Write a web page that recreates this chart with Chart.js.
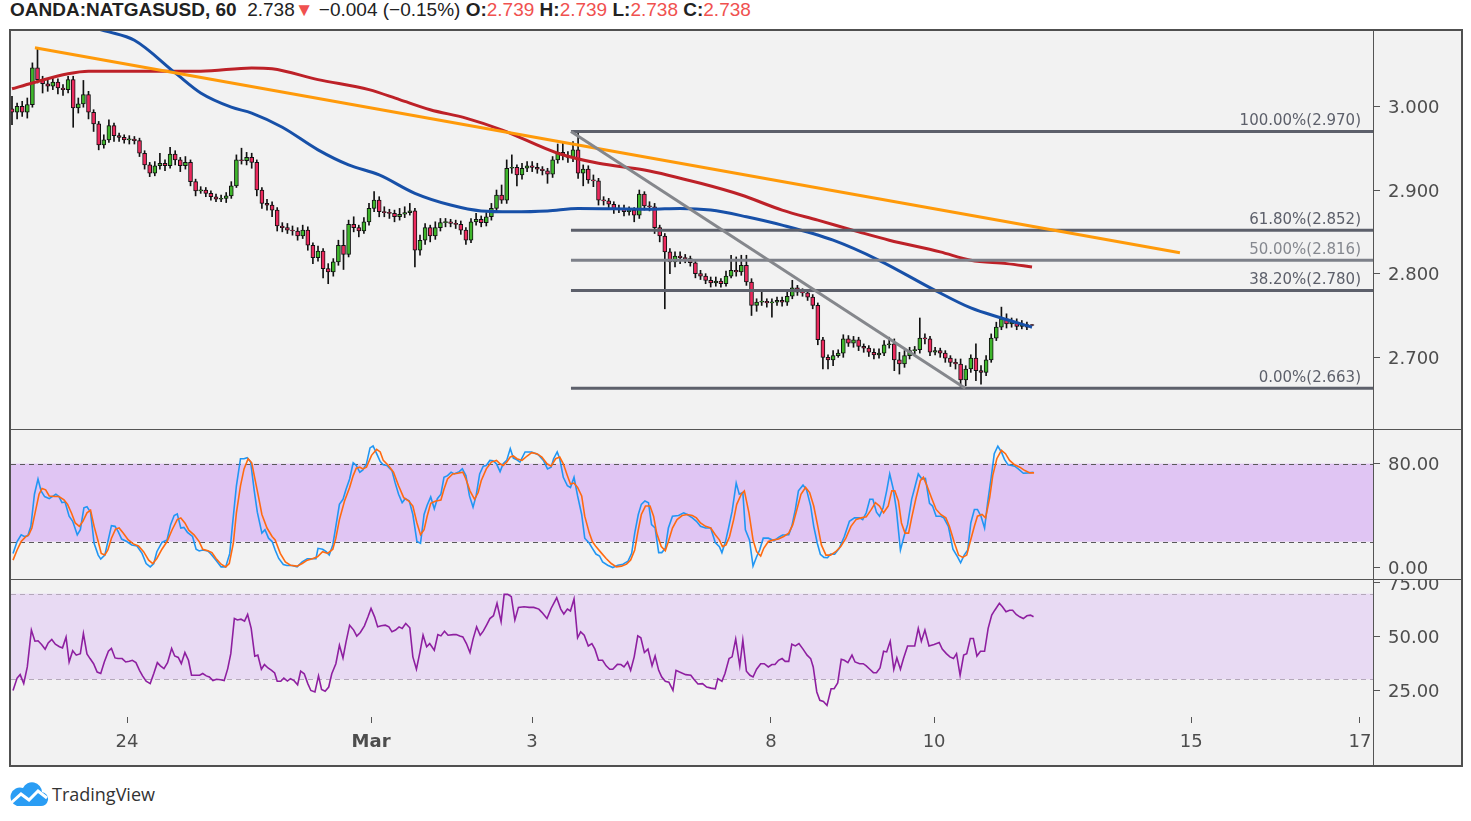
<!DOCTYPE html>
<html lang="en">
<head>
<meta charset="UTF-8">
<title>OANDA:NATGASUSD, 60</title>
<script src="https://cdn.jsdelivr.net/npm/chart.js"></script>
<style>
  body { margin: 0; background: #fff; width: 1471px; height: 821px; overflow: hidden; }
  #head { position: absolute; left: 10px; top: -1px; font: 19px 'Liberation Sans Narrow', 'Arial Narrow', sans-serif; color: #222; white-space: nowrap; line-height: 22px; }
  #head .dn { color: #f0514f; }
  #frame { position: absolute; left: 9px; top: 29px; width: 1454px; height: 738px; box-sizing: border-box; border: 2px solid #505050; background: #f2f2f2; }
  #frame canvas { position: absolute; left: 0; }
  .hl { position: absolute; left: 0; width: 1450px; height: 1px; background: #555; }
  .vl { position: absolute; left: 1362px; top: 0; width: 1px; height: 734px; background: #555; }
  #logo { position: absolute; left: 9px; top: 781px; }
  #logoText { position: absolute; left: 52px; top: 781px; font: 18px 'Open Sans', sans-serif; color: #333; line-height: 26px; }
</style>
</head>
<body>
<div id="head"><b>OANDA:NATGASUSD, 60</b>&nbsp; 2.738<span class="dn">▼</span> −0.004 (−0.15%) <b>O:</b><span class="dn">2.739</span> <b>H:</b><span class="dn">2.739</span> <b>L:</b><span class="dn">2.738</span> <b>C:</b><span class="dn">2.738</span></div>
<div id="frame">
  <canvas id="price" width="1450" height="398" style="top:0"></canvas>
  <div class="hl" style="top:398px"></div>
  <canvas id="stoch" width="1450" height="149" style="top:399px"></canvas>
  <div class="hl" style="top:548px"></div>
  <canvas id="rsi" width="1450" height="185" style="top:549px"></canvas>
  <div class="vl"></div>
</div>
<svg id="logo" width="40" height="26" viewBox="0 0 40 26">
  <path d="M8 25 H31 A7 7 0 0 0 33 11 A10 10 0 0 0 14 7 A9 9 0 0 0 8 25 Z" fill="#2a9df4"/>
  <polyline points="2,22 12,13 20,19 29,10 38,17" fill="none" stroke="#fff" stroke-width="3"/>
</svg>
<div id="logoText">TradingView</div>

<script>
// hourly candles, bar index 0..200
const opens = [
2.997,2.993,3.000,2.993,3.002,3.046,3.032,3.027,3.024,3.029,
3.022,3.020,3.032,2.998,3.003,3.014,2.993,2.979,2.954,2.960,
2.977,2.965,2.963,2.960,2.961,2.959,2.944,2.930,2.920,2.929,
2.932,2.929,2.943,2.936,2.929,2.933,2.910,2.899,2.900,2.896,
2.892,2.889,2.890,2.893,2.905,2.936,2.935,2.939,2.933,2.900,
2.884,2.882,2.876,2.857,2.855,2.852,2.851,2.845,2.852,2.834,
2.819,2.827,2.806,2.802,2.814,2.834,2.823,2.859,2.855,2.851,
2.862,2.878,2.888,2.874,2.873,2.872,2.868,2.871,2.873,2.875,
2.828,2.840,2.855,2.845,2.855,2.861,2.862,2.860,2.859,2.852,
2.840,2.862,2.865,2.861,2.868,2.878,2.894,2.888,2.926,2.927,
2.918,2.926,2.929,2.927,2.925,2.923,2.919,2.936,2.945,2.941,
2.939,2.948,2.920,2.925,2.912,2.911,2.888,2.887,2.883,2.877,
2.878,2.874,2.876,2.870,2.895,2.881,2.880,2.855,2.845,2.826,
2.814,2.821,2.819,2.818,2.813,2.800,2.797,2.792,2.789,2.791,
2.788,2.797,2.804,2.802,2.810,2.790,2.762,2.766,2.767,2.765,
2.766,2.768,2.766,2.773,2.783,2.778,2.777,2.772,2.762,2.721,
2.700,2.697,2.702,2.705,2.722,2.717,2.721,2.713,2.711,2.706,
2.703,2.705,2.715,2.716,2.697,2.692,2.702,2.708,2.709,2.723,
2.722,2.706,2.708,2.705,2.699,2.694,2.692,2.673,2.686,2.699,
2.684,2.682,2.697,2.723,2.736,2.746,2.740,2.742,2.737,2.739,
2.739];
const highs = [
3.012,3.004,3.006,3.010,3.052,3.070,3.036,3.032,3.034,3.033,
3.026,3.036,3.036,3.010,3.031,3.018,2.996,2.982,2.966,2.984,
2.980,2.968,2.966,2.965,2.964,2.962,2.947,2.933,2.934,2.944,
2.936,2.951,2.947,2.939,2.940,2.936,2.913,2.904,2.903,2.899,
2.895,2.894,2.897,2.910,2.942,2.950,2.945,2.944,2.936,2.903,
2.889,2.886,2.879,2.861,2.860,2.857,2.855,2.858,2.856,2.837,
2.833,2.830,2.812,2.818,2.840,2.852,2.864,2.868,2.858,2.867,
2.884,2.898,2.892,2.880,2.877,2.876,2.878,2.880,2.884,2.878,
2.846,2.860,2.858,2.862,2.866,2.866,2.865,2.864,2.863,2.855,
2.866,2.872,2.869,2.873,2.884,2.900,2.906,2.936,2.942,2.930,
2.932,2.934,2.934,2.932,2.928,2.926,2.940,2.955,2.958,2.946,
2.958,2.970,2.930,2.929,2.918,2.914,2.892,2.890,2.886,2.882,
2.882,2.880,2.879,2.900,2.898,2.886,2.884,2.858,2.848,2.830,
2.826,2.826,2.823,2.821,2.816,2.804,2.800,2.796,2.796,2.794,
2.803,2.822,2.820,2.822,2.822,2.794,2.770,2.778,2.770,2.770,
2.772,2.772,2.778,2.792,2.786,2.782,2.780,2.775,2.765,2.724,
2.703,2.708,2.709,2.727,2.726,2.725,2.724,2.716,2.714,2.710,
2.710,2.720,2.724,2.722,2.706,2.708,2.712,2.713,2.747,2.728,
2.725,2.712,2.711,2.708,2.702,2.698,2.698,2.690,2.703,2.716,
2.690,2.702,2.728,2.742,2.760,2.752,2.747,2.746,2.744,2.742,
2.739];
const lows = [
2.978,2.985,2.988,2.986,2.999,3.028,3.016,3.018,3.020,3.015,
3.013,3.016,2.975,2.992,2.999,2.985,2.970,2.948,2.950,2.957,
2.958,2.958,2.956,2.955,2.955,2.940,2.925,2.916,2.917,2.925,
2.923,2.926,2.930,2.922,2.925,2.905,2.893,2.896,2.892,2.888,
2.886,2.886,2.885,2.890,2.903,2.931,2.930,2.926,2.893,2.878,
2.876,2.868,2.851,2.850,2.848,2.846,2.840,2.842,2.828,2.812,
2.815,2.795,2.788,2.797,2.810,2.805,2.820,2.850,2.844,2.848,
2.858,2.874,2.868,2.868,2.866,2.862,2.864,2.867,2.870,2.808,
2.822,2.835,2.838,2.841,2.851,2.856,2.856,2.854,2.847,2.835,
2.837,2.858,2.856,2.857,2.864,2.874,2.884,2.884,2.920,2.905,
2.913,2.922,2.922,2.920,2.918,2.908,2.915,2.932,2.936,2.933,
2.934,2.914,2.905,2.908,2.904,2.882,2.882,2.878,2.872,2.873,
2.869,2.870,2.862,2.866,2.876,2.875,2.848,2.838,2.758,2.800,
2.808,2.812,2.813,2.809,2.795,2.793,2.788,2.784,2.785,2.784,
2.785,2.795,2.797,2.798,2.786,2.750,2.755,2.762,2.760,2.748,
2.762,2.761,2.762,2.770,2.774,2.773,2.768,2.758,2.715,2.686,
2.686,2.690,2.700,2.700,2.713,2.712,2.708,2.706,2.701,2.698,
2.699,2.702,2.711,2.684,2.680,2.688,2.698,2.704,2.705,2.716,
2.702,2.703,2.700,2.694,2.689,2.686,2.663,2.666,2.682,2.672,
2.668,2.678,2.694,2.720,2.733,2.735,2.736,2.733,2.734,2.733,
2.738];
const closes = [
2.993,3.000,2.993,3.002,3.046,3.032,3.027,3.024,3.029,3.022,
3.020,3.032,2.998,3.003,3.014,2.993,2.979,2.954,2.960,2.977,
2.965,2.963,2.960,2.961,2.959,2.944,2.930,2.920,2.929,2.932,
2.929,2.943,2.936,2.929,2.933,2.910,2.899,2.900,2.896,2.892,
2.889,2.890,2.893,2.905,2.936,2.935,2.939,2.933,2.900,2.884,
2.882,2.876,2.857,2.855,2.852,2.851,2.845,2.852,2.834,2.819,
2.827,2.806,2.802,2.814,2.834,2.823,2.859,2.855,2.851,2.862,
2.878,2.888,2.874,2.873,2.872,2.868,2.871,2.873,2.875,2.828,
2.840,2.855,2.845,2.855,2.861,2.862,2.860,2.859,2.852,2.840,
2.862,2.865,2.861,2.868,2.878,2.894,2.888,2.926,2.927,2.918,
2.926,2.929,2.927,2.925,2.923,2.919,2.936,2.945,2.941,2.939,
2.948,2.920,2.925,2.912,2.911,2.888,2.887,2.883,2.877,2.878,
2.874,2.876,2.870,2.895,2.881,2.880,2.855,2.845,2.826,2.814,
2.821,2.819,2.818,2.813,2.800,2.797,2.792,2.789,2.791,2.788,
2.797,2.804,2.802,2.810,2.790,2.762,2.766,2.767,2.765,2.766,
2.768,2.766,2.773,2.783,2.778,2.777,2.772,2.762,2.721,2.700,
2.697,2.702,2.705,2.722,2.717,2.721,2.713,2.711,2.706,2.703,
2.705,2.715,2.716,2.697,2.692,2.702,2.708,2.709,2.723,2.722,
2.706,2.708,2.705,2.699,2.694,2.692,2.673,2.686,2.699,2.684,
2.682,2.697,2.723,2.736,2.746,2.740,2.742,2.737,2.739,2.736,
2.738];

// moving averages [bar, price]
const maRed = [[0,3.021],[4,3.028],[11,3.039],[15,3.042],[24,3.042],[37,3.042],[47,3.046],[51,3.045],[60,3.032],[70,3.020],[76,3.008],[82,2.996],[89,2.986],[96,2.972],[107,2.944],[115,2.932],[124,2.924],[135,2.908],[143,2.894],[151,2.876],[158,2.864],[166,2.850],[172,2.840],[182,2.826],[188,2.816],[195,2.812],[200,2.808]];
const maBlue = [[0,3.110],[9,3.103],[19,3.089],[24,3.079],[32,3.040],[37,3.016],[43,2.999],[47,2.992],[53,2.975],[60,2.948],[66,2.930],[72,2.918],[79,2.896],[86,2.882],[92,2.875],[98,2.874],[105,2.875],[111,2.878],[125,2.877],[131,2.878],[137,2.876],[144,2.868],[151,2.858],[161,2.840],[170,2.816],[181,2.780],[188,2.759],[194,2.747],[200,2.736]];

// drawings
const trendOrange = [[4.5,3.070],[229.0,2.825]];
const trendGray = [[109.6,2.970],[186.9,2.663]];
const fibStart = 109.6;
const fibPct = ['100.00%','61.80%','50.00%','38.20%','0.00%'];
const fibPrice = [2.970,2.852,2.816,2.780,2.663];

// stochastic %K / %D and RSI [bar, value]
const stochK = [[0.2,11.0],[1.0,20.1],[1.8,25.3],[2.4,24.0],[3.1,24.6],[3.7,31.8],[4.4,56.5],[5.1,68.2],[5.7,59.1],[6.4,54.7],[7.3,53.1],[7.9,54.7],[8.6,56.5],[9.2,54.7],[9.8,50.0],[10.4,50.5],[11.2,39.6],[11.9,35.7],[12.8,25.3],[13.4,29.2],[14.1,46.1],[14.7,46.9],[15.4,42.7],[16.1,18.8],[16.9,9.7],[17.4,6.6],[18.2,9.7],[18.8,20.1],[19.5,32.3],[20.2,31.8],[20.8,27.9],[21.5,22.0],[22.5,20.1],[23.5,17.5],[24.5,16.7],[25.5,11.0],[26.3,3.2],[27.1,0.6],[27.8,3.2],[28.4,12.3],[29.4,19.4],[30.4,21.4],[31.1,33.1],[31.8,40.1],[32.4,41.4],[33.1,30.5],[33.7,31.0],[34.4,27.2],[35.4,24.0],[36.1,14.2],[36.7,12.9],[37.4,13.6],[38.4,12.9],[39.0,10.5],[40.0,5.8],[41.0,0.6],[41.9,0.6],[42.7,11.0],[43.2,31.8],[44.0,63.0],[44.8,83.8],[45.5,83.8],[46.1,84.6],[46.8,81.2],[47.5,59.1],[48.1,42.7],[49.0,26.6],[49.6,29.2],[50.3,22.7],[51.0,20.1],[51.6,13.6],[52.3,7.1],[53.2,2.5],[53.9,1.7],[54.9,1.7],[55.9,0.6],[56.9,4.5],[57.9,6.9],[59.6,6.9],[60.0,14.9],[60.9,14.2],[61.6,12.3],[62.2,9.7],[62.9,17.5],[63.5,31.8],[64.2,48.7],[64.9,52.6],[65.5,60.4],[66.2,68.2],[66.9,80.7],[67.5,78.6],[68.2,73.4],[68.8,75.2],[69.5,79.9],[70.2,92.1],[70.8,93.7],[71.5,87.7],[72.2,81.7],[72.8,79.1],[73.5,78.6],[74.5,74.7],[75.1,65.6],[75.8,56.5],[76.5,50.0],[77.1,53.1],[77.9,51.3],[78.6,40.9],[79.4,20.1],[80.1,18.8],[80.8,40.9],[81.4,48.0],[82.1,54.4],[82.8,45.3],[83.4,53.1],[84.1,56.5],[84.7,69.5],[85.4,70.8],[86.1,73.4],[86.7,72.1],[87.7,73.9],[88.3,76.0],[89.0,70.8],[89.7,55.2],[90.4,46.6],[91.0,55.2],[91.7,72.1],[92.4,78.1],[93.0,78.6],[93.7,82.5],[94.3,82.3],[95.0,79.9],[95.7,73.9],[96.3,79.9],[97.0,82.5],[97.7,91.6],[98.3,84.3],[99.0,83.0],[99.6,81.2],[100.6,89.0],[101.9,89.0],[103.2,86.9],[104.2,82.5],[105.0,76.0],[105.7,77.3],[106.2,83.8],[106.9,89.0],[107.4,83.8],[108.1,69.5],[108.9,63.0],[109.5,61.7],[110.2,69.5],[110.9,55.2],[111.7,40.9],[112.3,22.7],[113.2,18.8],[113.8,14.9],[114.5,10.5],[115.2,9.0],[115.8,4.5],[116.8,1.9],[117.8,0.1],[118.8,1.9],[119.8,2.7],[120.8,5.1],[121.5,11.0],[122.1,26.6],[122.8,40.9],[123.4,48.7],[124.1,51.3],[124.8,50.0],[125.4,33.1],[126.1,30.5],[126.8,11.6],[127.4,11.6],[128.1,14.9],[128.7,30.5],[129.5,39.6],[130.7,40.1],[131.7,42.2],[132.4,40.9],[133.4,38.3],[134.2,35.7],[135.0,31.8],[136.0,30.5],[137.0,30.5],[137.9,19.4],[138.7,16.2],[139.2,11.6],[139.9,20.1],[140.5,30.5],[141.2,43.5],[142.0,65.1],[142.6,56.5],[143.3,57.8],[143.8,29.2],[144.6,21.4],[145.3,1.2],[146.0,8.4],[146.6,13.6],[147.3,22.7],[148.3,22.7],[149.4,20.7],[150.3,23.3],[151.1,25.1],[152.3,25.3],[152.9,31.8],[153.6,44.8],[154.2,59.1],[155.1,63.5],[155.8,59.9],[156.6,47.4],[157.2,31.8],[157.9,18.8],[158.5,10.3],[159.2,7.9],[159.9,7.7],[160.5,10.5],[161.3,10.3],[162.2,14.9],[163.2,24.0],[164.2,35.7],[165.2,38.3],[166.2,38.3],[166.8,37.0],[167.5,42.2],[168.2,52.6],[168.8,52.6],[169.5,42.7],[170.1,39.6],[170.8,46.1],[171.5,59.1],[172.1,72.1],[172.8,60.4],[173.4,44.8],[174.2,13.6],[174.9,24.0],[175.6,33.1],[176.4,52.6],[177.1,63.0],[177.7,72.1],[178.4,68.2],[179.1,68.7],[179.9,49.5],[180.5,47.4],[181.2,39.6],[182.1,39.6],[182.7,38.3],[183.6,31.8],[184.5,14.2],[185.4,8.4],[186.0,3.8],[186.7,9.7],[187.4,13.6],[188.0,34.4],[188.7,44.8],[189.3,44.8],[190.0,39.6],[190.7,30.5],[191.3,50.0],[192.0,69.5],[192.6,87.7],[193.3,93.4],[194.0,89.0],[194.6,83.3],[195.3,79.1],[196.0,78.6],[196.6,78.1],[197.3,76.0],[198.3,72.6],[199.3,72.9],[200.3,73.4]];
const stochD = [[0.2,5.8],[1.0,13.6],[1.8,20.1],[2.6,23.5],[3.3,25.3],[3.9,30.5],[4.6,43.5],[5.3,56.5],[5.9,60.9],[6.6,59.9],[7.3,55.2],[8.3,54.7],[9.2,54.7],[10.2,52.1],[10.9,48.7],[11.7,41.7],[12.4,34.4],[13.2,31.8],[13.9,35.7],[14.7,42.2],[15.4,44.3],[16.1,31.8],[16.9,20.1],[17.5,11.0],[18.2,9.7],[18.8,13.6],[19.5,22.7],[20.3,29.7],[21.0,30.5],[21.8,26.6],[22.8,21.4],[23.8,18.3],[24.8,16.7],[25.8,12.3],[26.8,5.8],[27.6,3.2],[28.4,7.1],[29.4,14.2],[30.4,20.1],[31.4,29.2],[32.4,37.0],[33.1,38.3],[33.9,34.4],[34.7,28.7],[35.7,25.3],[36.7,20.1],[37.4,14.2],[38.4,13.1],[39.2,11.6],[40.0,7.1],[41.0,2.7],[41.9,0.6],[42.6,3.2],[43.4,18.8],[44.0,42.2],[44.8,63.0],[45.5,76.0],[46.3,83.8],[47.0,80.7],[47.7,66.9],[48.3,55.2],[49.0,40.9],[50.0,30.5],[51.0,24.0],[51.6,21.4],[52.6,11.0],[53.6,4.5],[54.6,1.9],[55.9,1.2],[56.9,3.2],[57.9,5.8],[58.9,6.9],[59.9,8.4],[60.9,12.3],[61.9,11.0],[62.9,14.2],[63.5,22.7],[64.2,37.0],[65.2,51.3],[66.2,61.7],[66.9,70.8],[67.5,76.5],[68.2,77.3],[68.8,76.0],[69.5,77.3],[70.5,86.4],[71.5,91.1],[72.2,89.0],[72.8,82.5],[73.8,78.6],[74.8,73.4],[75.8,63.0],[76.8,53.9],[77.8,51.3],[78.6,47.4],[79.4,34.4],[80.1,25.3],[80.8,29.2],[81.4,39.6],[82.1,49.5],[83.1,51.3],[84.1,52.1],[84.7,60.4],[85.4,68.2],[86.4,72.1],[87.4,72.6],[88.4,73.4],[89.0,68.2],[89.8,59.1],[90.7,52.6],[91.4,57.8],[92.0,66.9],[93.0,76.0],[94.0,81.2],[95.0,82.5],[95.7,79.9],[96.3,78.6],[97.0,81.2],[97.7,85.1],[98.3,85.9],[99.0,83.8],[100.0,82.5],[101.0,85.9],[101.9,88.5],[102.9,87.7],[103.9,85.1],[104.9,79.9],[105.7,78.1],[106.6,83.8],[107.4,85.1],[108.1,79.9],[108.9,70.8],[109.5,64.3],[110.2,65.1],[110.9,61.7],[111.7,55.2],[112.3,39.6],[113.2,26.6],[113.8,20.1],[114.5,16.2],[115.5,11.6],[116.5,7.1],[117.5,3.2],[118.5,0.6],[119.5,1.2],[120.5,2.7],[121.3,5.8],[122.1,13.6],[122.8,29.2],[123.4,40.9],[124.2,47.4],[125.1,47.4],[125.8,39.6],[126.4,26.6],[127.3,16.2],[128.1,13.1],[128.7,20.1],[129.5,30.5],[130.4,37.0],[131.4,40.1],[132.4,40.9],[133.4,40.1],[134.2,38.3],[135.0,34.4],[136.0,31.8],[137.0,30.5],[137.9,25.3],[138.7,21.4],[139.3,16.2],[140.0,17.5],[140.7,24.0],[141.5,37.0],[142.1,48.7],[143.0,56.5],[143.6,59.1],[144.5,42.2],[145.3,21.4],[146.0,12.3],[146.8,9.0],[147.4,14.9],[148.3,20.1],[149.4,21.4],[150.3,22.0],[151.3,24.0],[152.3,26.6],[153.1,33.1],[153.9,44.8],[154.7,56.5],[155.6,61.7],[156.4,57.8],[157.2,47.4],[158.0,31.8],[158.7,17.5],[159.6,9.7],[160.5,9.7],[161.5,12.3],[162.5,16.2],[163.5,22.7],[164.5,31.8],[165.5,37.0],[166.5,38.3],[167.5,39.1],[168.5,44.8],[169.3,50.0],[170.1,47.4],[170.9,42.2],[171.8,47.4],[172.5,59.1],[173.1,59.1],[173.8,51.3],[174.4,34.4],[175.1,26.6],[175.8,26.6],[176.4,38.3],[177.2,52.6],[178.1,66.9],[178.7,69.5],[179.4,63.0],[180.4,52.6],[181.2,44.8],[182.1,40.9],[183.1,38.3],[183.8,31.8],[184.7,20.1],[185.6,9.7],[186.4,7.9],[187.2,9.7],[187.8,18.8],[188.7,31.8],[189.3,39.6],[190.2,40.9],[190.9,38.3],[191.7,53.9],[192.3,70.8],[193.1,83.8],[194.0,90.3],[194.8,87.7],[195.6,82.5],[196.6,79.1],[197.6,77.3],[198.6,74.7],[199.6,72.9],[200.4,72.9]];
const rsi = [[0.2,24.8],[1.0,30.6],[1.6,32.2],[2.3,28.0],[3.0,35.8],[3.8,53.0],[4.5,47.8],[5.1,48.0],[5.8,46.3],[6.5,44.1],[7.1,47.0],[7.8,48.6],[8.5,46.4],[9.3,45.2],[9.9,44.7],[10.6,49.7],[11.2,38.1],[11.9,43.4],[12.6,41.3],[13.4,42.0],[14.0,51.4],[14.7,41.9],[15.3,39.7],[16.0,37.3],[16.7,33.4],[17.4,32.7],[18.1,38.1],[18.9,43.1],[19.5,44.4],[20.2,40.0],[20.8,39.7],[21.6,39.7],[22.3,38.1],[23.0,38.4],[23.6,38.9],[24.3,37.8],[25.0,34.2],[25.6,31.6],[26.3,29.1],[27.1,28.0],[27.8,32.7],[28.5,37.8],[29.1,36.3],[29.8,35.0],[30.5,37.8],[31.3,44.4],[31.9,40.9],[32.6,40.2],[33.2,37.3],[33.9,42.5],[34.6,38.9],[35.2,31.9],[36.1,31.9],[36.8,31.9],[37.4,32.7],[38.1,31.6],[38.7,31.1],[39.4,29.4],[40.1,30.0],[40.9,29.8],[41.6,29.4],[42.3,35.0],[42.9,42.0],[43.6,58.4],[44.2,57.7],[44.9,58.1],[45.6,57.2],[46.2,60.3],[46.9,53.8],[47.6,40.8],[48.2,41.3],[48.9,34.7],[49.5,36.9],[50.2,35.3],[50.9,34.2],[51.5,33.0],[52.0,29.1],[52.7,29.1],[53.3,30.6],[54.0,29.2],[54.6,30.3],[55.3,29.4],[56.0,27.5],[56.6,33.8],[57.3,32.6],[58.0,28.0],[58.6,24.8],[59.4,24.1],[60.1,31.6],[60.7,25.3],[61.4,24.4],[62.1,26.4],[62.7,32.6],[63.5,37.3],[64.2,45.9],[64.9,40.0],[65.5,47.5],[66.2,55.3],[67.0,53.0],[67.6,50.2],[68.3,51.9],[69.1,55.0],[69.8,59.2],[70.4,63.1],[71.1,59.2],[71.7,54.5],[72.4,55.0],[73.2,55.3],[73.9,54.5],[74.5,52.2],[75.2,53.0],[75.9,54.5],[76.5,53.8],[77.2,56.1],[78.0,54.1],[78.6,40.5],[79.3,34.7],[80.0,42.8],[80.6,50.6],[81.3,45.2],[81.9,46.7],[82.8,43.6],[83.5,50.9],[84.1,50.3],[84.8,52.5],[85.5,50.6],[86.5,50.9],[87.1,50.9],[87.8,50.2],[88.4,49.8],[89.1,46.7],[89.8,42.5],[90.4,48.8],[91.1,54.5],[91.8,50.6],[92.4,52.5],[93.1,55.6],[93.7,58.4],[94.4,59.7],[95.1,65.5],[95.9,56.9],[96.5,69.7],[97.2,69.7],[97.9,68.6],[98.6,57.7],[99.3,63.6],[100.4,63.9],[101.4,63.6],[102.3,63.6],[103.3,62.8],[103.9,61.3],[104.9,58.4],[105.7,63.1],[106.8,68.1],[107.6,62.8],[108.2,60.5],[108.9,62.8],[109.5,61.9],[110.2,67.5],[110.9,49.4],[111.5,52.2],[112.2,50.6],[113.0,45.6],[113.7,46.7],[114.3,44.1],[115.0,38.9],[115.8,38.9],[116.5,36.3],[117.2,34.7],[117.8,34.7],[118.7,37.0],[119.4,36.9],[120.0,35.8],[120.7,38.1],[121.3,34.2],[122.0,40.5],[122.7,50.3],[123.3,49.4],[124.0,42.5],[124.7,44.1],[125.5,36.3],[126.1,40.9],[126.8,34.2],[127.4,31.1],[128.1,29.1],[128.8,28.7],[129.6,24.8],[130.2,34.2],[130.9,33.4],[132.1,32.2],[133.1,31.9],[133.7,30.0],[134.5,27.8],[135.4,28.0],[136.2,26.4],[137.1,25.9],[137.9,25.6],[138.4,30.3],[139.2,29.1],[139.8,32.7],[140.6,39.7],[141.2,40.5],[141.9,48.8],[142.7,36.3],[143.3,48.3],[144.0,33.8],[144.7,31.9],[145.3,31.1],[146.0,34.7],[146.8,37.3],[147.5,37.3],[148.3,35.8],[149.0,36.9],[149.6,36.9],[150.3,38.9],[151.0,39.7],[151.6,38.4],[152.3,38.4],[152.9,46.4],[153.6,45.6],[154.3,46.7],[155.1,44.1],[155.9,41.3],[156.6,39.7],[157.1,35.8],[157.8,24.1],[158.4,20.2],[159.1,19.7],[159.8,17.8],[160.6,25.6],[161.2,25.6],[161.9,28.3],[162.6,39.4],[163.2,38.9],[163.9,37.8],[164.7,41.3],[165.3,38.1],[166.2,37.3],[166.9,37.3],[167.5,36.3],[168.2,34.7],[168.9,33.1],[169.5,33.1],[170.2,35.3],[170.9,43.1],[171.5,42.8],[172.2,47.8],[172.9,34.7],[173.5,40.0],[174.2,34.7],[174.8,39.7],[175.6,45.6],[176.4,45.6],[177.0,45.6],[177.7,53.8],[178.3,47.8],[179.0,53.0],[179.8,45.6],[180.8,46.3],[181.8,47.2],[182.4,44.1],[183.2,42.0],[183.9,40.5],[184.6,39.7],[185.2,42.0],[185.9,31.9],[186.6,41.3],[187.2,42.0],[187.9,49.1],[188.5,49.1],[189.2,40.9],[189.9,43.1],[190.7,43.1],[191.4,53.8],[192.1,60.0],[192.7,62.3],[193.6,65.5],[194.2,63.9],[194.9,61.6],[195.6,62.3],[196.2,62.3],[196.9,60.3],[197.6,59.2],[198.3,58.4],[199.0,59.7],[199.7,60.0],[200.3,59.2]];

// axis ticks
const xTickBars = [22.55, 70.4, 101.96, 148.8, 180.8, 231.2, 264.3];
const xTickLabels = ['24', 'Mar', '3', '8', '10', '15', '17'];
const priceTicks = [2.7, 2.8, 2.9, 3.0];
const stochTicks = [0, 80];
const rsiTicks = [25, 50, 75];
const stochBand = [20, 80];
const rsiBand = [30, 70];

const X_MIN = -0.196, X_MAX = 266.86;
const FONT = 'DejaVu Sans';
Chart.defaults.font.family = FONT;

const pts = arr => arr.map(p => ({ x: p[0], y: p[1] }));

function xScale(show) {
  return {
    type: 'linear', min: X_MIN, max: X_MAX, offset: false, display: show,
    grid: { display: true, drawOnChartArea: false, drawTicks: true, tickLength: 6, color: '#555', offset: false },
    border: { display: false },
    afterBuildTicks: s => { s.ticks = xTickBars.map(v => ({ value: v })); },
    afterFit: s => {
      if (show) { s.height = 48; }
      s.paddingLeft = 0; s.paddingRight = 0;
    },
    ticks: {
      autoSkip: false, maxRotation: 0, padding: 9, color: '#4d4d4d',
      callback: (v, i) => xTickLabels[i],
      font: c => ({ family: FONT, size: 18, weight: xTickLabels[c.index] === 'Mar' ? 'bold' : 'normal' })
    }
  };
}

function yScale(min, max, ticks, dec) {
  return {
    position: 'right', min: min, max: max,
    grid: { display: true, drawOnChartArea: false, drawTicks: true, tickLength: 7, color: '#555' },
    border: { display: false },
    afterBuildTicks: s => { s.ticks = ticks.map(v => ({ value: v })); },
    afterFit: s => { s.width = 88; s.paddingTop = 0; s.paddingBottom = 0; },
    ticks: { padding: 8, labelOffset: 2, color: '#4d4d4d', font: { family: FONT, size: 18 }, callback: v => v.toFixed(dec) }
  };
}

function bandPlugin(lo, hi, fill, line) {
  return {
    id: 'band',
    beforeDatasetsDraw(chart) {
      const { ctx, chartArea: a, scales: { y } } = chart;
      const t = y.getPixelForValue(hi), b = y.getPixelForValue(lo);
      ctx.save();
      ctx.fillStyle = fill;
      ctx.fillRect(a.left, t, a.right - a.left, b - t);
      ctx.strokeStyle = line; ctx.lineWidth = 1; ctx.setLineDash([5, 4]);
      [t, b].forEach(py => {
        ctx.beginPath();
        ctx.moveTo(a.left, Math.round(py) + 0.5);
        ctx.lineTo(a.right, Math.round(py) + 0.5);
        ctx.stroke();
      });
      ctx.restore();
    }
  };
}

const fibLabels = {
  id: 'fibLabels',
  afterDatasetsDraw(chart) {
    const { ctx, chartArea: a, scales: { y } } = chart;
    ctx.save();
    ctx.font = '15px "' + FONT + '"';
    ctx.textAlign = 'right';
    ctx.textBaseline = 'bottom';
    fibPrice.forEach((p, i) => {
      ctx.fillStyle = fibPct[i] === '50.00%' ? '#85888f' : '#5d606b';
      ctx.fillText(fibPct[i] + '(' + p.toFixed(3) + ')', a.right - 12, y.getPixelForValue(p) - 3);
    });
    ctx.restore();
  }
};

function baseOptions(showX, yCfg) {
  return {
    responsive: false, animation: false, devicePixelRatio: 1, events: [],
    layout: { padding: 0 },
    plugins: { legend: { display: false }, tooltip: { enabled: false } },
    scales: { x: xScale(showX), y: yCfg }
  };
}

function line(data, color, width, smooth) {
  return {
    type: 'line', data: pts(data), borderColor: color, borderWidth: width,
    pointRadius: 0, fill: false, tension: smooth ? 0.4 : 0,
    cubicInterpolationMode: smooth ? 'monotone' : 'default'
  };
}

// price panel
const idx = closes.map((c, i) => i);
const UP = '#3fb62c', DOWN = '#ec2a5e';
const fibSets = fibPrice.map((p, i) => ({
  type: 'line', data: [{ x: fibStart, y: p }, { x: X_MAX, y: p }],
  borderColor: fibPct[i] === '50.00%' ? '#7d8089' : '#5d606b', borderWidth: 3, pointRadius: 0
}));

new Chart(document.getElementById('price'), {
  type: 'bar',
  data: {
    datasets: [
      line(trendGray, '#85878c', 3, false),
      line(trendOrange, '#ff9a0a', 3, false),
      ...fibSets,
      line(maBlue, '#1750a8', 3, true),
      line(maRed, '#bd2128', 3, true),
      {
        type: 'bar', grouped: false, barThickness: 4, minBarLength: 1,
        data: idx.map(i => ({ x: i, y: [opens[i], closes[i]] })),
        backgroundColor: idx.map(i => closes[i] >= opens[i] ? UP : DOWN),
        borderColor: '#111', borderWidth: 1, borderSkipped: false
      },
      {
        type: 'bar', grouped: false, barThickness: 1,
        data: idx.map(i => ({ x: i, y: [lows[i], highs[i]] })),
        backgroundColor: '#111'
      }
    ]
  },
  options: baseOptions(false, yScale(2.6143, 3.0901, priceTicks, 3)),
  plugins: [fibLabels]
});

// stochastic panel
new Chart(document.getElementById('stoch'), {
  type: 'line',
  data: {
    datasets: [
      line(stochD, '#ff6a10', 1.6, false),
      line(stochK, '#2196f3', 1.6, false)
    ]
  },
  options: baseOptions(false, yScale(-8.7, 105.9, stochTicks, 2)),
  plugins: [bandPlugin(stochBand[0], stochBand[1], '#e0c5f3', '#5a5a5a')]
});

// RSI panel with time axis
new Chart(document.getElementById('rsi'), {
  type: 'line',
  data: { datasets: [line(rsi, '#8e1fa0', 1.6, false)] },
  options: baseOptions(true, yScale(12.4, 76.4, rsiTicks, 2)),
  plugins: [bandPlugin(rsiBand[0], rsiBand[1], '#e8daf3', '#b4a8ba')]
});
</script>
</body>
</html>
